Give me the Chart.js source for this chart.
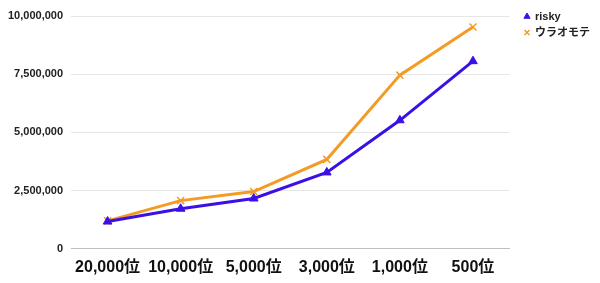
<!DOCTYPE html>
<html>
<head>
<meta charset="utf-8">
<script src="https://cdn.jsdelivr.net/npm/chart.js@4"></script>
<style>
  html, body { margin: 0; padding: 0; background: #fff; }
  #wrap { width: 600px; height: 283px; }
</style>
</head>
<body>
<div id="wrap"><canvas id="myChart"></canvas></div>
<script>
const ranks = ['20,000位', '10,000位', '5,000位', '3,000位', '1,000位', '500位'];
const riskyScores = [1170000, 1720000, 2160000, 3280000, 5520000, 8060000];
const uraomoteScores = [1200000, 2070000, 2460000, 3840000, 7460000, 9530000];

const fontFamily = "'Liberation Sans', 'Noto Sans CJK JP', sans-serif";

// nudge the legend a bit right/up, away from the plot
const legendNudge = {
    id: 'legendNudge',
    afterLayout(chart) {
        const lg = chart.legend;
        lg.left += 10;
        lg.right += 10;
        lg.top -= 10;
        lg.bottom -= 10;
    }
};

const ctx = document.getElementById('myChart').getContext('2d');

const lineChart = new Chart(ctx, {
    type: 'line',
    data: {
        labels: ranks,
        datasets: [{
            label: 'risky',
            data: riskyScores,
            borderColor: '#3b10e6',
            backgroundColor: '#3b10e6',
            borderWidth: 3,
            pointStyle: 'triangle',
            pointRadius: 5,
            pointBorderWidth: 1,
            tension: 0,
        }, {
            label: 'ウラオモテ',
            data: uraomoteScores,
            borderColor: '#f49b25',
            backgroundColor: '#f49b25',
            borderWidth: 3,
            pointStyle: 'cross',
            pointRotation: 45,
            pointRadius: 5,
            pointBorderWidth: 1.5,
            tension: 0,
        }],
    },
    options: {
        responsive: true,
        maintainAspectRatio: false,
        animation: false,
        layout: { padding: { top: 16, right: 10, left: 0, bottom: -3 } },
        plugins: {
            tooltip: { enabled: false },
            legend: {
                position: 'right',
                align: 'start',
                labels: {
                    usePointStyle: true,
                    boxWidth: 5,
                    boxHeight: 5,
                    padding: 5,
                    color: '#222',
                    font: { family: fontFamily, size: 11, weight: 'bold' },
                },
            },
        },
        scales: {
            x: {
                offset: true,
                grid: { display: false, drawTicks: false },
                border: { color: '#bdbdbd', width: 1 },
                ticks: {
                    color: '#111',
                    padding: 9,
                    maxRotation: 0,
                    autoSkip: false,
                    font: { family: fontFamily, size: 16, weight: 'bold' },
                },
            },
            y: {
                min: 0,
                max: 10000000,
                grid: { color: '#e6e6e6', drawTicks: false },
                border: { display: false },
                ticks: {
                    stepSize: 2500000,
                    padding: 8,
                    color: '#222',
                    font: { family: fontFamily, size: 11, weight: 'bold' },
                    callback: (v) => v.toLocaleString('en-US'),
                },
            },
        },
    },
    plugins: [legendNudge],
}); // closes lineChart
</script>
</body>
</html>
